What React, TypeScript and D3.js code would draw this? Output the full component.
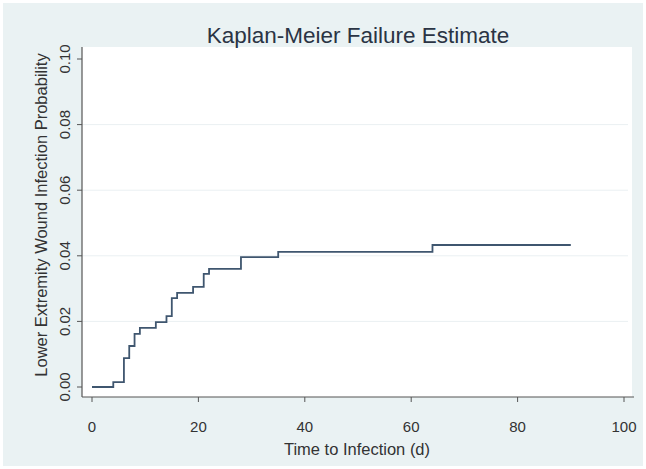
import React from "react";
import * as d3 from "d3";

const stepTimes = [0, 4, 6, 7, 8, 9, 12, 14, 15, 16, 19, 21, 22, 28, 35, 64, 90];
const failureProb = [0, 0.0015, 0.0088, 0.0125, 0.0162, 0.018, 0.0198, 0.0216, 0.0271, 0.0287, 0.0305, 0.0345, 0.036, 0.0396, 0.0412, 0.0433, 0.0433];
const xTicks = [0, 20, 40, 60, 80, 100];
const yTicks = [0, 0.02, 0.04, 0.06, 0.08, 0.1];
const gridValues = [0.02, 0.04, 0.06, 0.08];

const W = 646;
const H = 469;
const FONT = "'Liberation Sans', Arial, sans-serif";

export default function App() {
  const x = d3.scaleLinear().domain([0, 100]).range([92, 624]);
  const y = d3.scaleLinear().domain([0, 0.1]).range([387, 59]);
  const pts: [number, number][] = stepTimes.map((t, i) => [t, failureProb[i]]);
  const line = d3
    .line<[number, number]>()
    .x((d) => x(d[0]))
    .y((d) => y(d[1]))
    .curve(d3.curveStepAfter);

  const plotLeft = 82;
  const plotRight = 632;
  const plotTop = 47;
  const plotBottom = 397;

  return (
    <svg
      width={W}
      height={H}
      style={{ position: "absolute", left: 0, top: 0, display: "block" }}
      fontFamily={FONT}
    >
      <rect x={0} y={0} width={W} height={H} fill="#ffffff" />
      <rect x={3} y={3} width={W - 6} height={H - 6} fill="#eaf2f3" />
      <rect x={plotLeft} y={plotTop} width={plotRight - plotLeft} height={plotBottom - plotTop} fill="#ffffff" />
      {gridValues.map((v) => (
        <line key={v} x1={plotLeft} x2={plotRight - 4} y1={y(v)} y2={y(v)} stroke="#eaf0f2" strokeWidth={1} />
      ))}
      <path d={line(pts) || ""} fill="none" stroke="#3f566f" strokeWidth={1.8} />
      {/* y axis */}
      <line x1={plotLeft} x2={plotLeft} y1={plotTop} y2={plotBottom} stroke="#555" strokeWidth={1.2} />
      {yTicks.map((v) => (
        <g key={v}>
          <line x1={plotLeft - 5} x2={plotLeft} y1={y(v)} y2={y(v)} stroke="#555" strokeWidth={1} />
          <text
            transform={`translate(${plotLeft - 12},${y(v)}) rotate(-90)`}
            textAnchor="middle"
            fontSize={15}
            fill="#333"
          >
            {d3.format(".2f")(v)}
          </text>
        </g>
      ))}
      {/* x axis */}
      <line x1={plotLeft} x2={plotRight + 2} y1={plotBottom} y2={plotBottom} stroke="#555" strokeWidth={1.2} />
      {xTicks.map((v) => (
        <g key={v}>
          <line x1={x(v)} x2={x(v)} y1={plotBottom} y2={plotBottom + 5} stroke="#555" strokeWidth={1} />
          <text x={x(v)} y={432} textAnchor="middle" fontSize={15} fill="#333">
            {v}
          </text>
        </g>
      ))}
      <text x={(plotLeft + plotRight) / 2} y={455} textAnchor="middle" fontSize={16.5} fill="#333">
        Time to Infection (d)
      </text>
      <text
        transform={`translate(${47},${215}) rotate(-90)`}
        textAnchor="middle"
        fontSize={16.5}
        fill="#333"
      >
        Lower Extremity Wound Infection Probability
      </text>
      <text x={358} y={43} textAnchor="middle" fontSize={22.5} fill="#2a3444">
        Kaplan-Meier Failure Estimate
      </text>
    </svg>
  );
}
